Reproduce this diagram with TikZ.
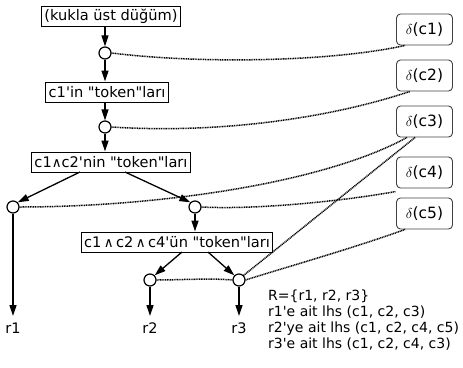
\documentclass[tikz,border=0pt]{standalone}
\usepackage{fontspec}
\setmainfont{DejaVu Sans}[Ligatures=TeXOff]
\usetikzlibrary{arrows.meta}

\tikzset{
  tok/.style={draw, line width=1pt, fill=white, inner xsep=3pt, inner ysep=2pt,
    minimum height=20pt, font=\fontsize{14.6}{16}\selectfont},
  knot/.style={circle, draw, line width=1.2pt, fill=white, minimum size=12pt, inner sep=0pt},
  dbox/.style={draw=black!75, line width=0.9pt, rounded corners=4pt, minimum width=56pt,
    minimum height=31pt, inner sep=0pt, font=\fontsize{15.5}{16}\selectfont},
  arr/.style={line width=1.3pt, -{Triangle[length=11pt,width=7pt]}},
  dots/.style={line width=1.5pt, dash pattern=on 1pt off 0.7pt},
  leaf/.style={font=\fontsize{14.5}{16}\selectfont, inner sep=0pt}
}
\newcommand\andsym{{\fontsize{13.5}{13.5}\selectfont∧}}

\begin{document}
\begin{tikzpicture}[x=1pt,y=-1pt]
\useasboundingbox (0,0) rectangle (463,367);

% token boxes
\node[tok] (top) at (111,16) {(kukla üst düğüm)};
\node[tok] (t1)  at (107,92) {c1'in "token"ları};
\node[tok] (t2)  at (111,162) {c1\andsym c2'nin "token"ları};
\node[tok] (t3)  at (177,242) {c1\,\andsym\,c2\,\andsym\,c4'ün "token"ları};

% memory nodes
\node[knot] (k1) at (105,53) {};
\node[knot] (k2) at (105,127) {};
\node[knot] (k3) at (13,207) {};
\node[knot] (k4) at (195,207) {};
\node[knot] (k5) at (150,280) {};
\node[knot] (k6) at (239,280) {};

% rule outputs
\node[leaf] (r1) at (13,328) {r1};
\node[leaf] (r2) at (150,328) {r2};
\node[leaf] (r3) at (239,328) {r3};
\coordinate (e1) at (13,316);
\coordinate (e2) at (150,316);
\coordinate (e3) at (239,316);

% condition tests
\node[dbox] (d1) at (424.5,29.5) {$\delta$(c1)};
\node[dbox] (d2) at (424.5,75.5) {$\delta$(c2)};
\node[dbox] (d3) at (424.5,121.5) {$\delta$(c3)};
\node[dbox] (d4) at (424.5,172.5) {$\delta$(c4)};
\node[dbox] (d5) at (424.5,213.5) {$\delta$(c5)};

% network arrows
\draw[arr] (k1 |- top.south) -- (k1.north);
\draw[arr] (k1.south) -- (k1 |- t1.north);
\draw[arr] (k2 |- t1.south) -- (k2.north);
\draw[arr] (k2.south) -- (k2 |- t2.north);
\draw[arr] (80,172) -- (k3.north east);
\draw[arr] (125,172) -- (k4.north west);
\draw[arr] (k4.south) -- (k4 |- t3.north);
\draw[arr] (182,252) -- (k5.north east);
\draw[arr] (208,252) -- (k6.north west);
\draw[arr] (k3.south) -- (e1);
\draw[arr] (k5.south) -- (e2);
\draw[arr] (k6.south) -- (e3);

% test links
\draw[dots] (k1.east) .. controls (200,64) and (330,62) .. ([xshift=9pt]d1.south west);
\draw[dots] (k2.east) .. controls (220,134) and (330,118) .. ([xshift=14pt]d2.south west);
\draw[dots] (k3.east) .. controls (150,207) and (320,185) .. ([xshift=11pt]d3.south west);
\draw[dots] ([xshift=19pt]d3.south west) -- (k6.north east);
\draw[dots] (k4.east) .. controls (260,210) and (350,200) .. ([yshift=-3pt]d4.south west);
\draw[dots] (k5.east) .. controls (180,280) and (210,278) .. (k6.west);
\draw[dots] (k6.east) .. controls (290,266) and (360,246) .. ([xshift=9pt]d5.south west);

% rule listing
\node[anchor=north west, align=left, inner sep=0pt, font=\fontsize{14}{16}\selectfont] (rules) at (268,290)
  {R=\{r1, r2, r3\}\\
   r1'e ait lhs (c1, c2, c3)\\
   r2'ye ait lhs (c1, c2, c4, c5)\\
   r3'e ait lhs (c1, c2, c4, c3)};
\end{tikzpicture}
\end{document}
